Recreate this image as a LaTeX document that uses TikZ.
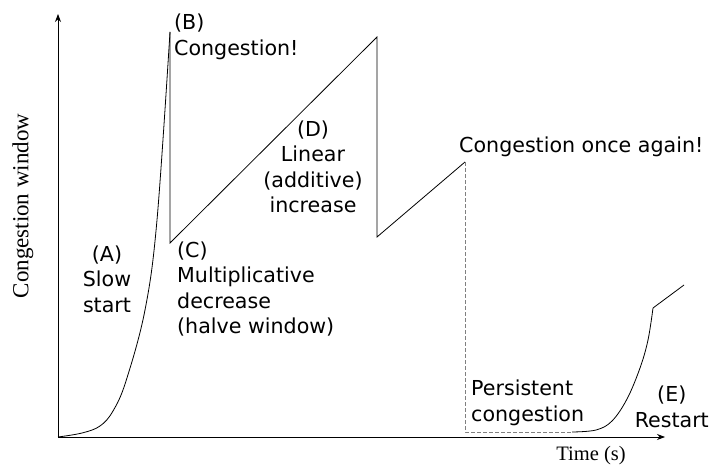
\documentclass[tikz,border=0pt]{standalone}
\usepackage{fontspec}
\setmainfont{Liberation Serif}
\newfontfamily\handfont{DejaVu Sans}
\usetikzlibrary{arrows.meta,positioning,calc}

\tikzset{
    note/.style={font=\handfont\fontsize{20.6}{25.5}\selectfont, inner sep=0pt},
    axislabel/.style={font=\fontsize{20.5}{24}\selectfont, inner sep=0pt},
    curve/.style={line width=0.8pt},
    persist/.style={gray, line width=0.8pt, dash pattern=on 4pt off 2pt}
}

\begin{document}
\begin{tikzpicture}[x=1pt, y=-1pt, >={Stealth[length=8pt,width=6pt]}]
    \useasboundingbox (0,0) rectangle (712,468);

    % axes
    \coordinate (origin) at (58,437);
    \coordinate (xend) at (665,437);
    \coordinate (yend) at (58,14);
    \draw [->, line width=0.8pt] (origin) -- (xend);
    \draw [->, line width=0.8pt] (origin) -- (yend);
    \node (xlabel) [axislabel] at (591,456) {Time (s)};
    \node (ylabel) [axislabel, rotate=90, font=\fontsize{23}{26}\selectfont] at (23,206) {Congestion window};

    % window trace
    \coordinate (peakB) at (170,32);
    \coordinate (dropC) at (170,243);
    \coordinate (peakD) at (377,37);
    \coordinate (dropD) at (377,237);
    \coordinate (peakAgain) at (465,162);
    \coordinate (floor) at (465,432);
    \coordinate (restart) at (572,432);
    \coordinate (knee) at (653,308);
    \coordinate (last) at (684,285);

    \draw [curve] plot [smooth, tension=0.6] coordinates
        {(origin) (82,433) (100,426) (113,411) (126,381) (145,310) (157,220) (peakB)};
    \draw [curve] (peakB) -- (dropC) -- (peakD) -- (dropD) -- (peakAgain);
    \draw [persist] (peakAgain) -- (floor) -- (restart);
    \draw [curve] plot [smooth, tension=0.6] coordinates
        {(restart) (596,430) (612,421) (627,399) (640,368) (648,340) (knee)};
    \draw [curve] (knee) -- (last);

    % labels
    \node (slow) [note, align=center] at (107,279) {(A)\\Slow\\start};
    \node (congB) [note, align=left, anchor=west] at (174,37) {(B)\\Congestion!};
    \node (mult) [note, align=left, anchor=west] at (177,289) {(C)\\Multiplicative\\decrease\\(halve window)};
    \node (linear) [note, align=center] at (313,167) {(D)\\Linear\\(additive)\\increase};
    \node (again) [note, anchor=west] at (459,147) {Congestion once again!};
    \node (persistent) [note, align=left, anchor=west] at (471,403) {Persistent\\congestion};
    \node (restartlabel) [note, align=center, anchor=east] at (709,407) {(E)\\Restart};
\end{tikzpicture}
\end{document}
